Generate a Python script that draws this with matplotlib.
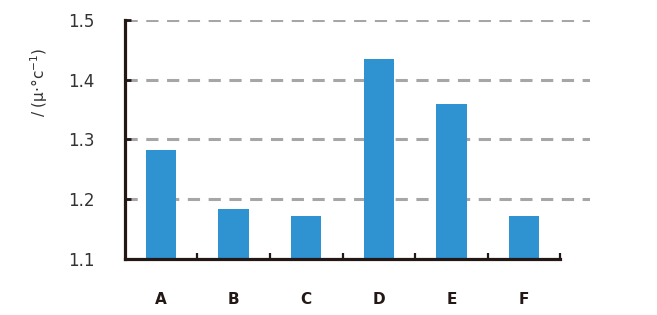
import matplotlib
matplotlib.use("Agg")
import matplotlib.pyplot as plt

# categorie e valori
labels = ["A", "B", "C", "D", "E", "F"]
values = [1.282, 1.184, 1.172, 1.435, 1.359, 1.172]
y_ticks = [1.1, 1.2, 1.3, 1.4, 1.5]

fig = plt.figure(figsize=(6.57, 3.15), dpi=100)
ax = fig.add_axes([0.190, 0.178, 0.708, 0.759])

dark = "#231815"
pos = list(range(len(labels)))
ax.bar(pos, values, width=0.42, bottom=0, color="#2e93d0", zorder=3)

ax.set_ylim(1.1, 1.5)
ax.set_xlim(-0.5, 5.91)

# griglia tratteggiata
for y in y_ticks[1:]:
    ax.axhline(y, color="#a6a6a6", lw=2.2, ls=(0, (4.0, 2.8)), zorder=1)

ax.spines["top"].set_visible(False)
ax.spines["right"].set_visible(False)
for s in ["left", "bottom"]:
    ax.spines[s].set_linewidth(2.3)
    ax.spines[s].set_color(dark)
    ax.spines[s].set_zorder(4)
ax.spines["bottom"].set_bounds(-0.5, 5.5)

ax.set_yticks(y_ticks)
ax.set_yticklabels([f"{v:.1f}" for v in y_ticks], fontsize=12, color="#333333")
ax.tick_params(axis="y", direction="in", length=4, width=2, color=dark, pad=22)

ax.set_xticks(pos)
ax.set_xticklabels(labels, fontsize=11, fontweight="bold", color=dark)
ax.tick_params(axis="x", length=0, pad=24)
ax.set_xticks([p + 0.5 for p in pos], minor=True)
ax.tick_params(axis="x", which="minor", direction="in", length=4, width=1.6, color=dark)

fig.text(0.06, 0.74, "/ (μ·°c$^{-1}$)", rotation=90, ha="center", va="center",
         fontsize=11, color="#333333")

fig.savefig("out.png", dpi=100)
